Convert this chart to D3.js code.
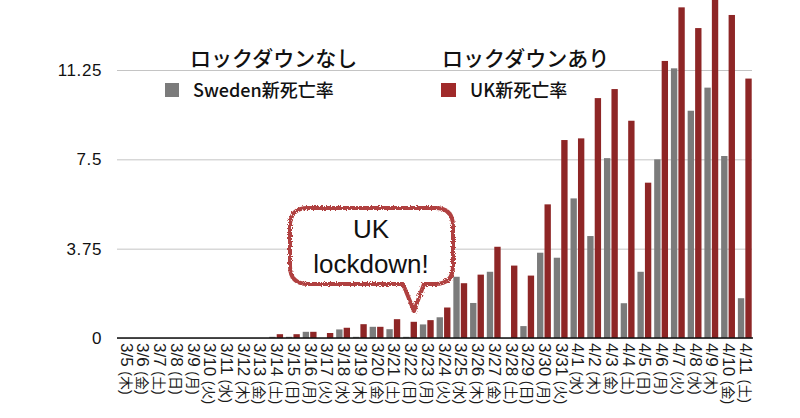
<!DOCTYPE html>
<html><head><meta charset="utf-8">
<script src="https://cdn.jsdelivr.net/npm/d3@7"></script>
<style>
html,body{margin:0;padding:0;background:#fff;}
svg{display:block;font-family:"Liberation Sans","Noto Sans CJK JP",sans-serif;}
</style></head>
<body>
<svg id="chart" width="800" height="418"></svg>
<script>
const dates = ["3/5","3/6","3/7","3/8","3/9","3/10","3/11","3/12","3/13","3/14","3/15","3/16","3/17","3/18","3/19","3/20","3/21","3/22","3/23","3/24","3/25","3/26","3/27","3/28","3/29","3/30","3/31","4/1","4/2","4/3","4/4","4/5","4/6","4/7","4/8","4/9","4/10","4/11"];
const weekdays = ["木","金","土","日","月","火","水","木","金","土","日","月","火","水","木","金","土","日","月","火","水","木","金","土","日","月","火","水","木","金","土","日","月","火","水","木","金","土"];
const swedenValues = [0,0,0,0,0,0,0,0,0,0.05,0.05,0.26,0,0.36,0.05,0.47,0.37,0.05,0.57,0.87,2.57,1.47,2.78,0,0.5,3.58,3.37,5.86,4.28,7.55,1.46,2.78,7.5,11.32,9.54,10.51,7.64,1.67];
const ukValues = [0,0,0,0,0,0,0,0,0,0.16,0.16,0.26,0.21,0.43,0.58,0.47,0.79,0.68,0.75,1.28,2.3,2.66,3.83,3.04,2.62,5.61,8.31,8.38,10.07,10.45,9.12,6.52,11.63,13.88,13.01,14.6,13.56,10.89];
const yTicks = [0, 3.75, 7.5, 11.25];
const yTickLabels = ["0", "3.75", "7.5", "11.25"];
const seriesNames = ["Sweden新死亡率", "UK新死亡率"];
const groupTitles = ["ロックダウンなし", "ロックダウンあり"];
const calloutLines = ["UK", "lockdown!"];

const svg = d3.select("#chart");
const GRAY = "#7b7b7b", RED = "#8e2626";

const x0 = d3.scaleBand().domain(dates).range([117, 753]).padding(0);
const x1 = d3.scaleBand().domain(["se","uk"]).range([1.6, x0.bandwidth() - 1.3]).paddingInner(0.15);
const y = d3.scaleLinear().domain([0, 11.25]).range([338, 70]);

// gridlines + y labels
const yAxis = d3.axisLeft(y).tickValues(yTicks)
  .tickFormat((d,i) => yTickLabels[i]).tickSize(-(753 - 117)).tickPadding(15);
const gy = svg.append("g").attr("transform", "translate(117,0)").call(yAxis);
gy.select(".domain").remove();
gy.selectAll(".tick line").attr("stroke", "#c4c4c4").attr("stroke-width", 1)
  .attr("x2", 752 - 117);
gy.selectAll(".tick text").attr("fill", "#111").style("font-size", "17px")
  .style("letter-spacing", "0.6px")
  .style("font-family", "'Liberation Sans', Arial, sans-serif");

// bars
const data = dates.map((d,i) => ({date: d, se: swedenValues[i], uk: ukValues[i]}));
const groups = svg.append("g").selectAll("g").data(data).join("g")
  .attr("transform", d => `translate(${x0(d.date)},0)`);
groups.selectAll("rect").data(d => [{k:"se", v:d.se}, {k:"uk", v:d.uk}]).join("rect")
  .attr("x", d => x1(d.k)).attr("width", x1.bandwidth())
  .attr("y", d => y(d.v)).attr("height", d => y(0) - y(d.v))
  .attr("fill", d => d.k === "se" ? GRAY : RED);

// baseline
svg.append("line").attr("x1", 117).attr("x2", 753).attr("y1", y(0)).attr("y2", y(0))
  .attr("stroke", "#111").attr("stroke-width", 1.6);

// x labels (rotated)
const xl = svg.append("g");
dates.forEach((d,i) => {
  const cx = x0(d) + x0.bandwidth()/2 + 1;
  const t = xl.append("text").attr("transform", `translate(${cx},343) rotate(90)`)
    .attr("dy", "0.36em").attr("text-anchor", "start").attr("fill", "#1a1a1a")
    .style("font-family", "'Liberation Sans','Noto Sans CJK JP',sans-serif");
  t.append("tspan").style("font-size", "17px").text(d + " ");
  t.append("tspan").style("font-size", "14px").text(`(${weekdays[i]})`);
});

// legend
const lg = svg.append("g").style("font-family", "'Noto Sans CJK JP',sans-serif");
lg.append("text").attr("x", 190).attr("y", 66).style("font-size", "21px").style("font-weight", 500)
  .attr("fill", "#111").text(groupTitles[0]);
lg.append("text").attr("x", 442).attr("y", 66).style("font-size", "21px").style("font-weight", 500)
  .attr("fill", "#111").text(groupTitles[1]);
lg.append("rect").attr("x", 165).attr("y", 83).attr("width", 14).attr("height", 14).attr("fill", GRAY);
lg.append("rect").attr("x", 441).attr("y", 83).attr("width", 15).attr("height", 14).attr("fill", "#a02a2a");
lg.append("text").attr("x", 193).attr("y", 97).style("font-size", "18px").style("font-weight", 500)
  .attr("fill", "#111").text(seriesNames[0]);
lg.append("text").attr("x", 470).attr("y", 97).style("font-size", "18px").style("font-weight", 500)
  .attr("fill", "#111").text(seriesNames[1]);

// callout
const defs = svg.append("defs");
const f = defs.append("filter").attr("id", "rough").attr("x", "-10%").attr("y", "-10%").attr("width", "120%").attr("height", "130%");
f.append("feTurbulence").attr("type", "fractalNoise").attr("baseFrequency", 0.8).attr("numOctaves", 2).attr("result", "n");
f.append("feDisplacementMap").attr("in", "SourceGraphic").attr("in2", "n").attr("scale", 4);

const L = 290, R = 453, T = 208, B = 284, r = 18;
const p = d3.path();
p.moveTo(L + r, T);
p.lineTo(R - r, T); p.quadraticCurveTo(R, T, R, T + r);
p.lineTo(R, B - r); p.quadraticCurveTo(R, B, R - r, B);
p.lineTo(424, B); p.lineTo(414, 311); p.lineTo(403, B);
p.lineTo(L + r, B); p.quadraticCurveTo(L, B, L, B - r);
p.lineTo(L, T + r); p.quadraticCurveTo(L, T, L + r, T);
p.closePath();
svg.append("path").attr("d", p.toString()).attr("fill", "#fff");
svg.append("path").attr("d", p.toString()).attr("fill", "none")
  .attr("stroke", "#b0413f").attr("stroke-width", 4).attr("stroke-linejoin", "round")
  .attr("filter", "url(#rough)");
svg.append("text").attr("x", 371).attr("y", 238).attr("text-anchor", "middle")
  .style("font-size", "26px").style("font-family", "'Liberation Sans',Arial,sans-serif")
  .attr("fill", "#111").text(calloutLines[0]);
svg.append("text").attr("x", 371).attr("y", 273).attr("text-anchor", "middle")
  .style("font-size", "26px").style("font-family", "'Liberation Sans',Arial,sans-serif")
  .attr("fill", "#111").text(calloutLines[1]);
</script>
</body></html>
